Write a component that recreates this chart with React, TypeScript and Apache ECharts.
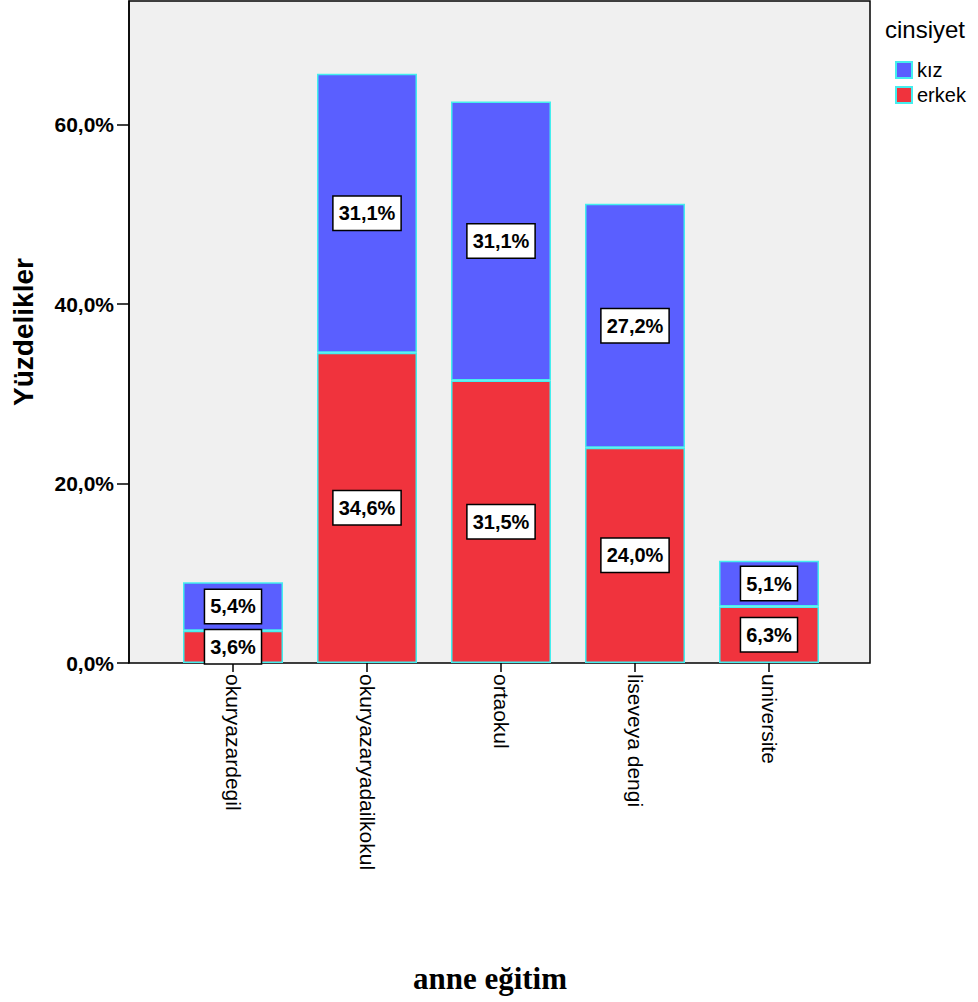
import React, { useEffect, useRef } from "react";
import * as echarts from "echarts";

const categories = ["okuryazardegil", "okuryazaryadailkokul", "ortaokul", "liseveya dengi", "universite"];
const erkekValues = [3.6, 34.6, 31.5, 24.0, 6.3];
const kizValues = [5.4, 31.1, 31.1, 27.2, 5.1];
const yTicks = [0, 20, 40, 60];

const SANS = "'Liberation Sans', Arial, Helvetica, sans-serif";
const SERIF = "'Liberation Serif', 'Times New Roman', serif";
const fmt = (v: number) => v.toFixed(1).replace(".", ",") + "%";

export default function App() {
  const ref = useRef<HTMLDivElement>(null);
  useEffect(() => {
    if (!ref.current) return;
    const chart = echarts.init(ref.current, null, { renderer: "svg" });
    const Y_MAX = 73.8;
    const barLabel = {
      show: true,
      position: "inside",
      formatter: (p: any) => fmt(p.value),
      backgroundColor: "#ffffff",
      borderColor: "#000000",
      borderWidth: 1.5,
      padding: [7, 5, 6, 5],
      color: "#000000",
      fontSize: 20,
      fontWeight: "bold",
      fontFamily: SANS,
    };
    chart.setOption({
      animation: false,
      backgroundColor: "#ffffff",
      grid: [
        { left: 129, top: 1, width: 741, height: 662, show: true, backgroundColor: "#f0f0f0", borderColor: "#000000", borderWidth: 1.5 },
        { left: 166, top: 1, width: 670, height: 662 },
      ],
      xAxis: [
        { type: "value", gridIndex: 0, show: false, min: 0, max: 1 },
        {
          type: "category",
          gridIndex: 1,
          data: categories,
          axisLine: { show: false },
          axisTick: { show: true, alignWithLabel: true, length: 9, lineStyle: { color: "#000", width: 1.5 }, interval: 0 },
          axisLabel: { rotate: -90, margin: 11, fontSize: 21, color: "#000", fontFamily: SANS, interval: 0 },
        },
      ],
      yAxis: [
        {
          type: "value",
          gridIndex: 0,
          min: 0,
          max: Y_MAX,
          interval: 20,
          splitLine: { show: false },
          axisLine: { show: true, lineStyle: { color: "#000", width: 1.5 } },
          axisTick: { show: true, length: 12, lineStyle: { color: "#000", width: 1.5 }, customValues: yTicks },
          axisLabel: {
            fontSize: 21,
            fontWeight: "bold",
            color: "#000",
            fontFamily: SANS,
            margin: 15,
            customValues: yTicks,
            formatter: (v: number) => (v % 20 === 0 ? fmt(v) : ""),
          },
          name: "Yüzdelikler",
          nameLocation: "middle",
          nameGap: 92,
          nameTextStyle: { fontSize: 28, fontWeight: "bold", color: "#000", fontFamily: SANS },
        },
        { type: "value", gridIndex: 1, min: 0, max: Y_MAX, show: false, splitLine: { show: false } },
      ],
      legend: {
        data: ["kız", "erkek"],
        orient: "vertical",
        left: 890,
        top: 55,
        itemWidth: 16,
        itemHeight: 16,
        itemGap: 5,
        icon: "rect",
        textStyle: { fontSize: 20, color: "#000", fontFamily: SANS },
      },
      graphic: [
        {
          type: "text",
          x: 885,
          y: 29,
          style: { text: "cinsiyet", font: `24px ${SANS}`, fill: "#000", textAlign: "left", textVerticalAlign: "middle" },
        },
        {
          type: "text",
          x: 490,
          y: 978,
          style: { text: "anne eğitim", font: `bold 31px ${SERIF}`, fill: "#000", textAlign: "center", textVerticalAlign: "middle" },
        },
      ],
      series: [
        {
          name: "erkek",
          type: "bar",
          stack: "total",
          xAxisIndex: 1,
          yAxisIndex: 1,
          barWidth: 100,
          data: erkekValues,
          itemStyle: { color: "#f0333d", borderColor: "#44eeee", borderWidth: 1.5 },
          label: barLabel,
        },
        {
          name: "kız",
          type: "bar",
          stack: "total",
          xAxisIndex: 1,
          yAxisIndex: 1,
          barWidth: 100,
          data: kizValues,
          itemStyle: { color: "#5a5fff", borderColor: "#44eeee", borderWidth: 1.5 },
          label: barLabel,
        },
      ],
    });
    return () => chart.dispose();
  }, []);
  return <div ref={ref} style={{ position: "absolute", left: 0, top: 0, width: 978, height: 1002 }} />;
}
